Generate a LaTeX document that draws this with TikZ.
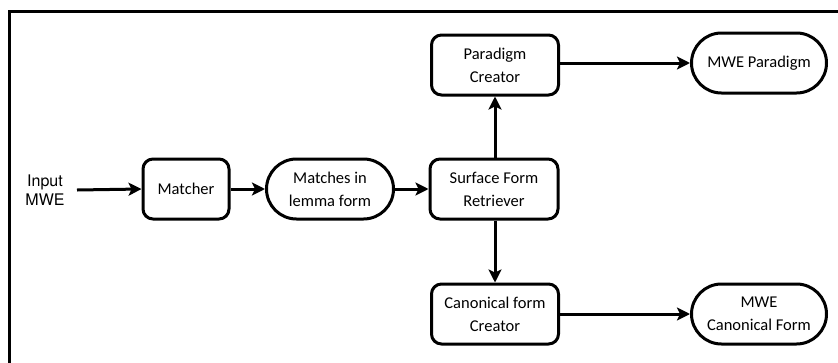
\documentclass[tikz,border=0pt]{standalone}
\usepackage{fontspec}
\setmainfont{Carlito}
\newfontfamily\inputfont{TeX Gyre Heros}
\usetikzlibrary{arrows.meta}
\begin{document}
\begin{tikzpicture}[x=1pt,y=-1pt,
  box/.style={draw,line width=3pt,rounded corners=10pt,minimum width=#1,minimum height=60pt,align=center,inner sep=0pt,font=\fontsize{16.5}{23}\selectfont},
  term/.style={draw,line width=3pt,rounded corners=30pt,minimum width=#1,minimum height=60pt,align=center,inner sep=0pt,font=\fontsize{16.5}{23}\selectfont},
  arr/.style={line width=3pt,-{Stealth[length=13pt,width=13pt,inset=3pt]}}]
\useasboundingbox (0,0) rectangle (838,362);
\draw[line width=3pt] (9,380) -- (9,11) -- (850,11);
\node[box=86pt] (match) at (186,189) {Matcher};
\node[term=127pt] (lemma) at (330,189) {Matches in\\lemma form};
\node[box=128pt] (surf) at (494,189) {Surface Form\\Retriever};
\node[box=127pt] (para) at (495,65) {Paradigm\\Creator};
\node[term=135pt] (mwep) at (759,63) {MWE Paradigm};
\node[box=127pt] (canon) at (495,314) {Canonical form\\Creator};
\node[term=135pt] (mwec) at (759,314) {MWE\\Canonical Form};
\node[align=center,inner sep=0pt,font=\inputfont\fontsize{16}{19}\selectfont] (inp) at (45,190) {Input\\MWE};
\coordinate (inpend) at (77,190);
\draw[arr] (inpend) -- (match.west);
\draw[arr] (match) -- (lemma);
\draw[arr] (lemma) -- (surf);
\draw[arr] (surf.north -| para.south) -- (para.south);
\draw[arr] (surf.south -| canon.north) -- (canon.north);
\draw[arr] (para.east |- mwep.west) -- (mwep.west);
\draw[arr] (canon) -- (mwec);
\end{tikzpicture}
\end{document}
